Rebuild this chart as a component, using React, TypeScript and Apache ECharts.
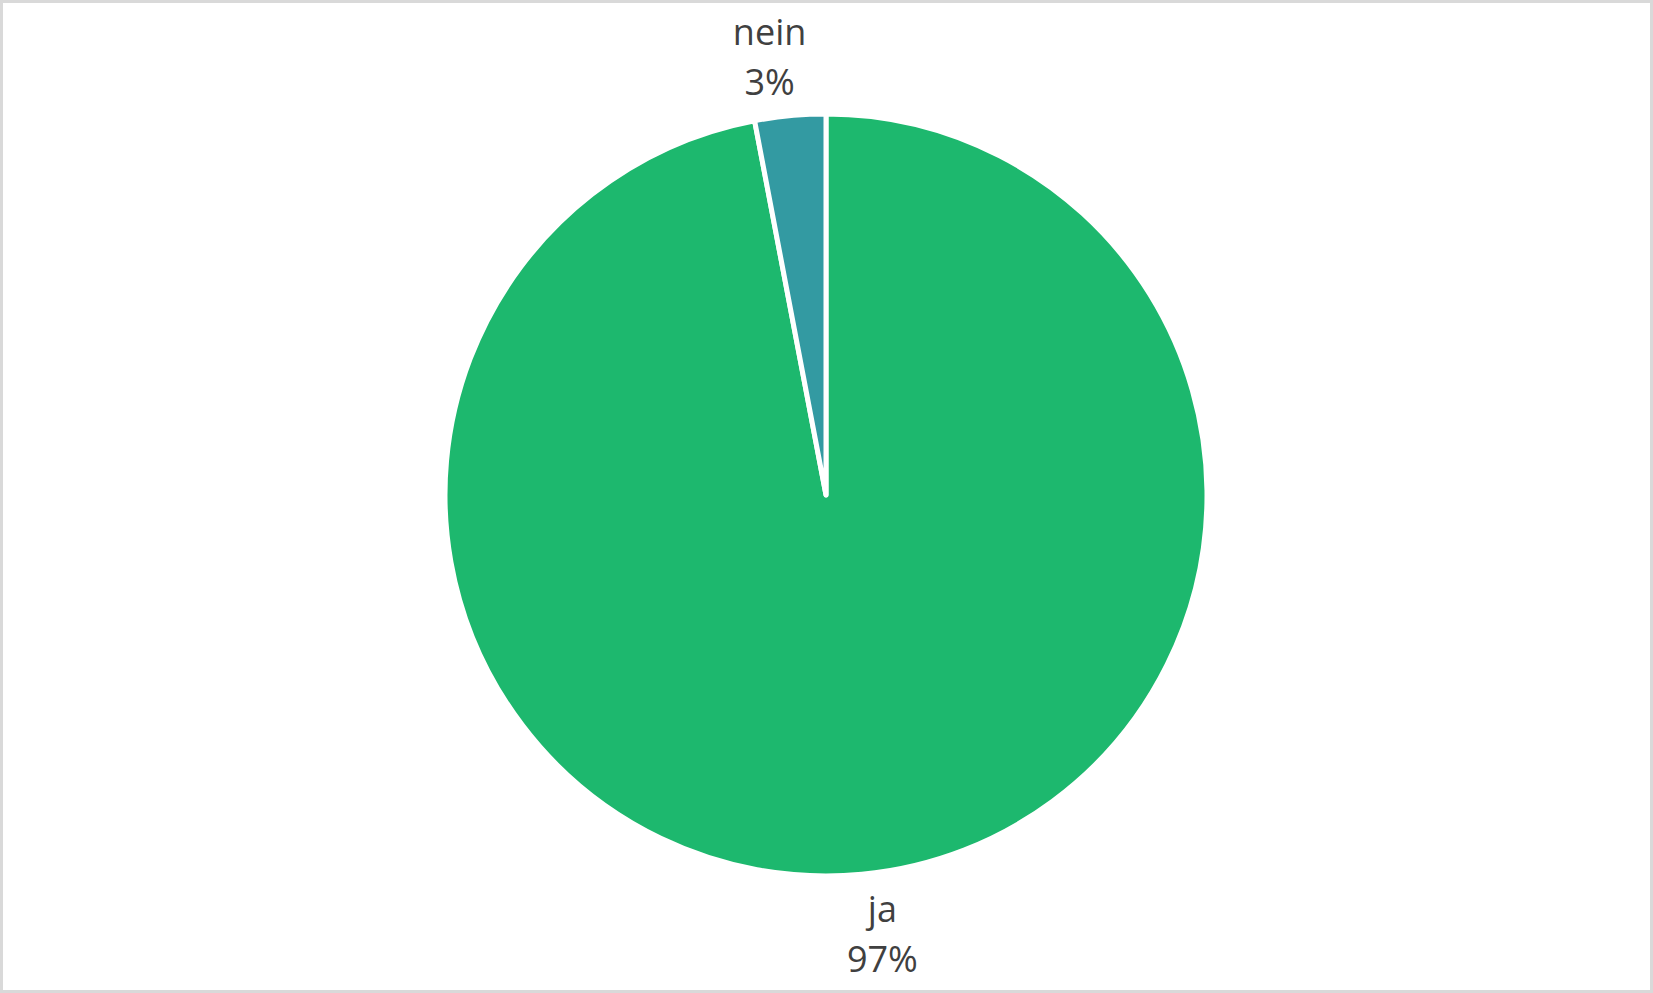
import React, { useEffect, useRef } from "react";
import * as echarts from "echarts";

const categories = ["ja", "nein"];
const values = [97, 3];
const colors = ["#1db86e", "#339aa2"];

export default function App() {
  const ref = useRef<HTMLDivElement>(null);
  useEffect(() => {
    document.body.style.margin = "0";
    if (!ref.current) return;
    const chart = echarts.init(ref.current, null, { renderer: "svg" });
    chart.setOption({
      animation: false,
      backgroundColor: "#ffffff",
      series: [
        {
          type: "pie",
          center: [826, 495],
          radius: 381,
          startAngle: 90,
          clockwise: true,
          avoidLabelOverlap: false,
          data: categories.map((c, i) => ({
            name: c,
            value: values[i],
            itemStyle: { color: colors[i] },
          })),
          itemStyle: { borderColor: "#ffffff", borderWidth: 5, borderJoin: "round" },
          label: {
            show: true,
            position: "outside",
            formatter: (p: any) => `${p.name}\n${Math.round(p.percent)}%`,
            fontFamily: "Open Sans",
            fontSize: 36,
            lineHeight: 50,
            color: "#404040",
          },
          labelLine: { show: false, length: 59, length2: 10 },
          labelLayout: () => ({ align: "center", verticalAlign: "middle" }),
          emphasis: { disabled: true },
        },
      ],
    });
    return () => chart.dispose();
  }, []);
  return (
    <div style={{ position: "relative", width: 1653, height: 993 }}>
      <div ref={ref} style={{ position: "absolute", left: 0, top: 0, width: 1653, height: 993 }} />
      <div
        style={{
          position: "absolute",
          inset: 0,
          border: "3px solid #d9d9d9",
          pointerEvents: "none",
        }}
      />
    </div>
  );
}
